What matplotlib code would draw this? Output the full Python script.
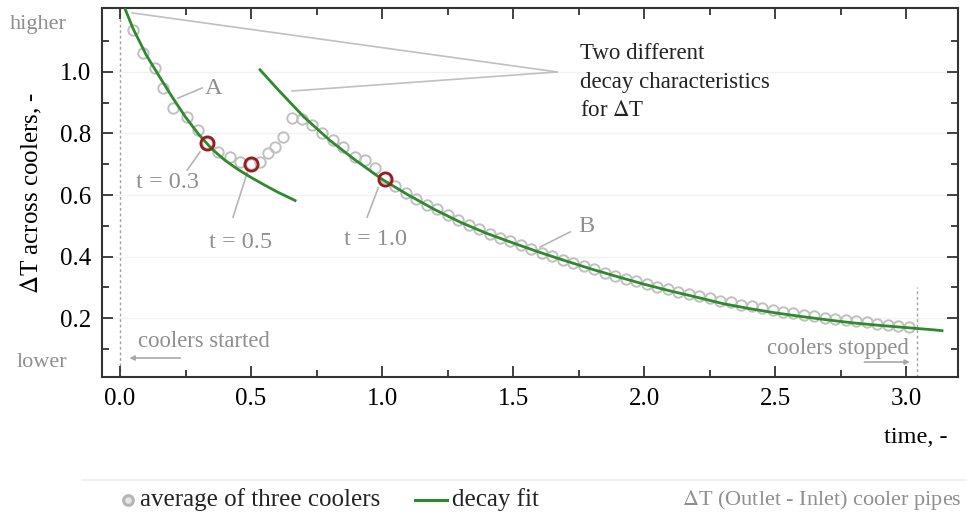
import numpy as np
import matplotlib
matplotlib.use("Agg")
import matplotlib.pyplot as plt
from matplotlib.lines import Line2D

plt.rcParams['font.family'] = ['Liberation Serif', 'DejaVu Serif']
plt.rcParams['mathtext.fontset'] = 'stix'

# measured points (average of three coolers)
t_meas = [0.050, 0.088, 0.134, 0.164, 0.202, 0.256, 0.298, 0.332, 0.374, 0.420,
          0.458, 0.500, 0.534, 0.565, 0.592, 0.622, 0.656, 0.695, 0.733, 0.771,
          0.813, 0.851, 0.897, 0.935, 0.973, 1.011,
          1.05, 1.09, 1.13, 1.17, 1.21, 1.25, 1.29, 1.33, 1.37, 1.41,
          1.45, 1.49, 1.53, 1.57, 1.61, 1.65, 1.69, 1.73, 1.77, 1.81,
          1.85, 1.89, 1.93, 1.97, 2.01, 2.05, 2.09, 2.13, 2.17, 2.21,
          2.25, 2.29, 2.33, 2.37, 2.41, 2.45, 2.49, 2.53, 2.57, 2.61,
          2.65, 2.69, 2.73, 2.77, 2.81, 2.85, 2.89, 2.93, 2.97, 3.01]
dT_meas = [1.137, 1.062, 1.013, 0.948, 0.883, 0.854, 0.811, 0.769, 0.740, 0.724,
           0.707, 0.701, 0.707, 0.737, 0.756, 0.789, 0.850, 0.847, 0.828, 0.802,
           0.779, 0.756, 0.724, 0.714, 0.688, 0.655,
           0.628, 0.607, 0.588, 0.569, 0.553, 0.535, 0.518, 0.502, 0.488, 0.474,
           0.460, 0.449, 0.437, 0.424, 0.413, 0.401, 0.390, 0.379, 0.368, 0.358,
           0.348, 0.338, 0.328, 0.320, 0.311, 0.302, 0.294, 0.286, 0.278, 0.271,
           0.264, 0.257, 0.251, 0.244, 0.238, 0.232, 0.226, 0.221, 0.216, 0.211,
           0.206, 0.201, 0.197, 0.193, 0.189, 0.186, 0.182, 0.178, 0.175, 0.172]

# highlighted points
t_mark = [0.332, 0.500, 1.011]
dT_mark = [0.769, 0.701, 0.653]

# decay fit A
t_fitA = [0.02, 0.05, 0.10, 0.15, 0.20, 0.25, 0.30, 0.35, 0.40, 0.45, 0.50, 0.55, 0.60, 0.668]
dT_fitA = [1.203, 1.140, 1.055, 0.985, 0.917, 0.853, 0.797, 0.750, 0.713, 0.683, 0.657, 0.633, 0.610, 0.582]

# decay fit B
t_fitB = [0.534, 0.60, 0.70, 0.80, 0.90, 1.00, 1.10, 1.20, 1.30, 1.40, 1.50, 1.60, 1.70,
          1.80, 1.90, 2.00, 2.10, 2.20, 2.30, 2.40, 2.50, 2.60, 2.70, 2.80, 2.90, 3.00,
          3.10, 3.137]
dT_fitB = [1.007, 0.945, 0.855, 0.778, 0.712, 0.651, 0.600, 0.553, 0.511, 0.475, 0.444,
           0.414, 0.386, 0.359, 0.334, 0.310, 0.288, 0.268, 0.247, 0.231, 0.217, 0.205,
           0.194, 0.184, 0.176, 0.169, 0.162, 0.159]

GRAY_TXT = '#8f8f8f'
GRAY_LINE = '#b5b5b5'
GREEN = '#2d8a2d'
RED = '#9a1b1b'

fig = plt.figure(figsize=(9.67, 5.18), dpi=100)
ax = fig.add_axes([0.1055, 0.272, 0.8852, 0.7126])

ax.set_xlim(-0.069, 3.198)
ax.set_ylim(0.008, 1.208)

# faint grid
for yv in [0.2, 0.4, 0.6, 0.8, 1.0]:
    ax.axhline(yv, color='#f2f2f2', lw=1.0, zorder=0)

# dotted start/stop markers
ax.axvline(0.0, color='#a0a0a0', lw=1.0, ls=(0, (2, 2)), zorder=1)
ax.plot([3.04, 3.04], [0.008, 0.30], color='#a0a0a0', lw=1.0, ls=(0, (2, 2)), zorder=1)

ax.plot(t_meas, dT_meas, 'o', ms=7.5, mfc='none', mec='#c0c0c0', mew=1.4, zorder=2)
ax.plot(t_fitA, dT_fitA, color=GREEN, lw=2.0, zorder=3)
ax.plot(t_fitB, dT_fitB, color=GREEN, lw=2.0, zorder=3)
ax.plot(t_mark, dT_mark, 'o', ms=9.5, mfc='none', mec=RED, mew=2.0, zorder=4)

# callout lines to "Two different..." text
ax.plot([0.046, 1.668], [1.192, 1.0], color='#c0c0c0', lw=1.2, zorder=1)
ax.plot([0.656, 1.668], [0.938, 1.0], color='#c0c0c0', lw=1.2, zorder=1)
ax.text(1.756, 0.967, 'Two different\ndecay characteristics\nfor $\\Delta$T', fontsize=16.5,
        color='#222222', va='center', ha='left', linespacing=1.45)

# point labels
ax.plot([0.221, 0.313], [0.915, 0.948], color=GRAY_LINE, lw=1.2)
ax.text(0.355, 0.945, 'A', fontsize=17.5, color=GRAY_TXT, ha='center', va='center')
ax.plot([0.305, 0.256], [0.740, 0.681], color=GRAY_LINE, lw=1.2)
ax.text(0.18, 0.642, 't = 0.3', fontsize=17.5, color=GRAY_TXT, ha='center', va='center')
ax.plot([0.485, 0.431], [0.672, 0.528], color=GRAY_LINE, lw=1.2)
ax.text(0.458, 0.444, 't = 0.5', fontsize=17.5, color=GRAY_TXT, ha='center', va='center')
ax.plot([0.985, 0.943], [0.623, 0.528], color=GRAY_LINE, lw=1.2)
ax.text(0.975, 0.454, 't = 1.0', fontsize=17.5, color=GRAY_TXT, ha='center', va='center')
ax.plot([1.603, 1.718], [0.431, 0.480], color=GRAY_LINE, lw=1.2)
ax.text(1.78, 0.496, 'B', fontsize=17.5, color=GRAY_TXT, ha='center', va='center')

# started / stopped
ax.text(0.069, 0.125, 'coolers started', fontsize=16.3, color=GRAY_TXT, ha='left', va='center')
ax.annotate('', xy=(0.025, 0.070), xytext=(0.24, 0.070),
            arrowprops=dict(arrowstyle='-|>', color='#a8a8a8', lw=1.2, mutation_scale=7))
ax.text(3.01, 0.102, 'coolers stopped', fontsize=16.3, color=GRAY_TXT, ha='right', va='center')
ax.annotate('', xy=(3.025, 0.057), xytext=(2.83, 0.057),
            arrowprops=dict(arrowstyle='-|>', color='#a8a8a8', lw=1.2, mutation_scale=7))

# higher / lower
ax.text(-0.313, 1.153, 'higher', fontsize=16, color=GRAY_TXT, ha='center', va='center', clip_on=False)
ax.text(-0.297, 0.057, 'lower', fontsize=16, color=GRAY_TXT, ha='center', va='center', clip_on=False)

# ticks
ax.set_xticks([0.0, 0.5, 1.0, 1.5, 2.0, 2.5, 3.0])
ax.set_xticklabels(['0.0', '0.5', '1.0', '1.5', '2.0', '2.5', '3.0'])
ax.set_xticks(np.arange(0.25, 3.2, 0.5), minor=True)
ax.set_yticks([0.2, 0.4, 0.6, 0.8, 1.0])
ax.set_yticklabels(['0.2', '0.4', '0.6', '0.8', '1.0'])
ax.set_yticks([0.1, 0.3, 0.5, 0.7, 0.9, 1.1], minor=True)
ax.tick_params(which='both', direction='in', top=True, right=True, color='#333333', width=1.3)
ax.tick_params(which='major', length=8, labelsize=18, pad=8)
ax.tick_params(which='minor', length=5)
for sp in ax.spines.values():
    sp.set_color('#333333')
    sp.set_linewidth(1.5)

ax.set_ylabel('$\\Delta$T across coolers, -', fontsize=18, labelpad=11)
fig.text(0.980, 0.156, 'time, -', fontsize=17.5, ha='right', va='center')

# legend strip
fig.add_artist(Line2D([0.085, 1.0], [0.073, 0.073], color='#eeeeee', lw=1.2))
fig.add_artist(Line2D([0.132], [0.035], marker='o', ms=7, mfc='#e6e6e6', mec='#b5b5b5', mew=2.2))
fig.text(0.145, 0.035, 'average of three coolers', fontsize=18, color='#222222', va='center')
fig.add_artist(Line2D([0.429, 0.462], [0.035, 0.035], color=GREEN, lw=2.2))
fig.text(0.467, 0.035, 'decay fit', fontsize=18, color='#222222', va='center')
fig.text(0.995, 0.035, '$\\Delta$T (Outlet - Inlet) cooler pipes', fontsize=16, color=GRAY_TXT,
         ha='right', va='center')

fig.savefig('out.png', dpi=100)
